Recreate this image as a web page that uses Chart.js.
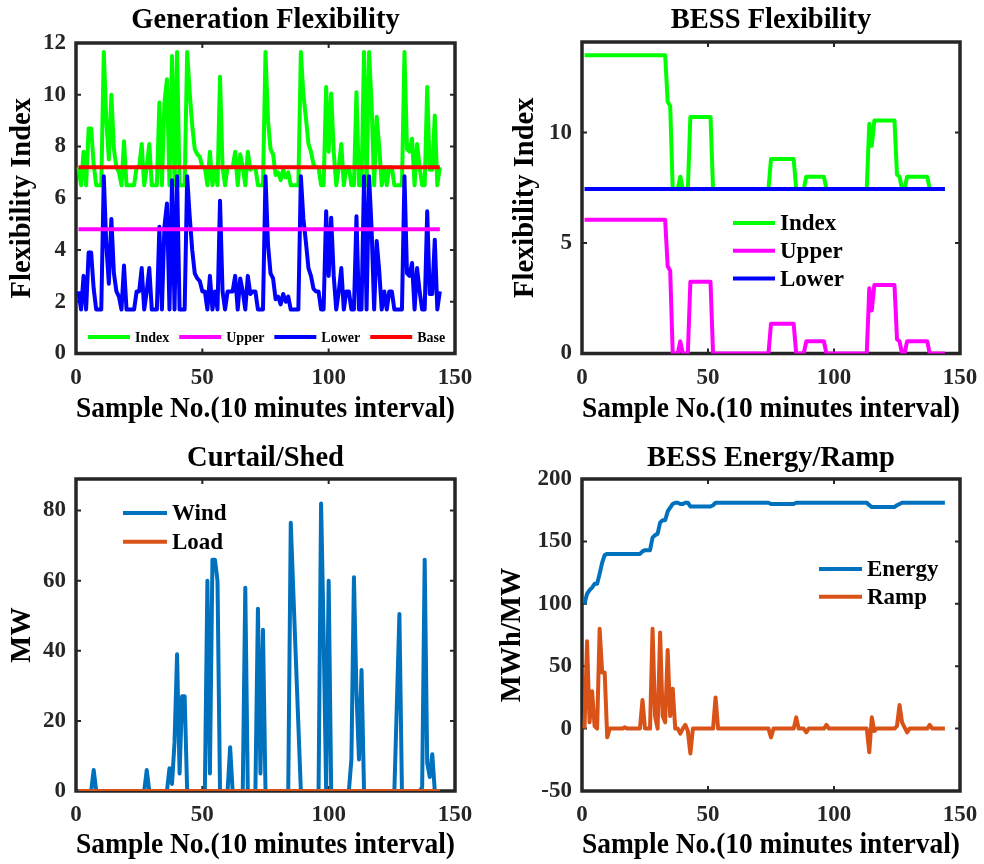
<!DOCTYPE html>
<html><head><meta charset="utf-8">
<script src="https://cdn.jsdelivr.net/npm/chart.js@4.4.1/dist/chart.umd.min.js"></script>
<style>
html,body{margin:0;padding:0;background:#fff;overflow:hidden;width:984px;height:864px;}
#wrap{position:relative;width:984px;height:864px;overflow:hidden;background:#fff;}
canvas{position:absolute;}
</style></head><body><div id="wrap">
<canvas id="c1"></canvas><canvas id="c2"></canvas><canvas id="c3"></canvas><canvas id="c4"></canvas>
</div>
<script>
// ---------- data ----------
const sampleNo = Array.from({length:144},(_,i)=>i+1);
const xTicks = [0,50,100,150];

const genIndex = [7.2,6.5,7.8,6.5,8.7,8.7,7.3,6.5,6.5,6.5,
 11.65,9.0,7.5,10.0,7.9,7.2,7.0,6.5,8.2,6.5,
 6.5,6.5,6.5,7.2,7.2,8.1,6.5,7.2,8.1,6.5,
 6.5,6.5,9.7,6.5,9.7,10.6,6.5,11.5,6.5,11.65,
 6.5,6.5,6.5,11.65,10.1,8.8,7.9,7.7,7.6,7.2,
 7.2,6.5,7.8,6.5,7.2,6.5,10.7,7.2,6.5,7.2,
 7.2,7.2,7.8,6.5,7.7,7.2,6.5,7.8,7.1,7.2,
 7.2,6.5,6.5,6.5,11.65,9.0,7.9,7.7,6.9,7.0,
 6.7,7.1,6.8,7.0,6.5,6.5,6.5,6.5,11.65,10.0,
 9.1,8.1,7.8,7.3,7.2,7.2,6.5,6.5,10.3,7.8,
 10.05,7.8,6.5,7.2,8.1,6.5,7.2,7.2,6.5,6.5,
 10.1,6.5,6.5,11.65,6.5,11.65,9.6,6.5,9.15,8.0,
 6.5,7.2,6.5,7.2,7.2,6.5,6.5,6.5,6.5,11.65,
 7.9,7.8,8.3,6.5,8.1,7.2,6.5,6.5,10.3,7.1,
 7.1,9.2,6.5,7.2];
const genUpper = [4.8,4.8,4.8,4.8,4.8,4.8,4.8,4.8,4.8,4.8,4.8,4.8,
 4.8,4.8,4.8,4.8,4.8,4.8,4.8,4.8,4.8,4.8,4.8,4.8,
 4.8,4.8,4.8,4.8,4.8,4.8,4.8,4.8,4.8,4.8,4.8,4.8,
 4.8,4.8,4.8,4.8,4.8,4.8,4.8,4.8,4.8,4.8,4.8,4.8,
 4.8,4.8,4.8,4.8,4.8,4.8,4.8,4.8,4.8,4.8,4.8,4.8,
 4.8,4.8,4.8,4.8,4.8,4.8,4.8,4.8,4.8,4.8,4.8,4.8,
 4.8,4.8,4.8,4.8,4.8,4.8,4.8,4.8,4.8,4.8,4.8,4.8,
 4.8,4.8,4.8,4.8,4.8,4.8,4.8,4.8,4.8,4.8,4.8,4.8,
 4.8,4.8,4.8,4.8,4.8,4.8,4.8,4.8,4.8,4.8,4.8,4.8,
 4.8,4.8,4.8,4.8,4.8,4.8,4.8,4.8,4.8,4.8,4.8,4.8,
 4.8,4.8,4.8,4.8,4.8,4.8,4.8,4.8,4.8,4.8,4.8,4.8,
 4.8,4.8,4.8,4.8,4.8,4.8,4.8,4.8,4.8,4.8,4.8,4.8];
const genLower = [2.4,1.7,3.0,1.7,3.9,3.9,2.5,1.7,1.7,1.7,
 6.85,4.2,2.7,5.2,3.1,2.4,2.2,1.7,3.4,1.7,
 1.7,1.7,1.7,2.4,2.4,3.3,1.7,2.4,3.3,1.7,
 1.7,1.7,4.9,1.7,4.9,5.8,1.7,6.7,1.7,6.85,
 1.7,1.7,1.7,6.85,5.3,4.0,3.1,2.9,2.8,2.4,
 2.4,1.7,3.0,1.7,2.4,1.7,5.9,2.4,1.7,2.4,
 2.4,2.4,3.0,1.7,2.9,2.4,1.7,3.0,2.3,2.4,
 2.4,1.7,1.7,1.7,6.85,4.2,3.1,2.9,2.1,2.2,
 1.9,2.3,2.0,2.2,1.7,1.7,1.7,1.7,6.85,5.2,
 4.3,3.3,3.0,2.5,2.4,2.4,1.7,1.7,5.5,3.0,
 5.25,3.0,1.7,2.4,3.3,1.7,2.4,2.4,1.7,1.7,
 5.3,1.7,1.7,6.85,1.7,6.85,4.8,1.7,4.35,3.2,
 1.7,2.4,1.7,2.4,2.4,1.7,1.7,1.7,1.7,6.85,
 3.1,3.0,3.5,1.7,3.3,2.4,1.7,1.7,5.5,2.3,
 2.3,4.4,1.7,2.4];
const genBase = [7.2,7.2,7.2,7.2,7.2,7.2,7.2,7.2,7.2,7.2,7.2,7.2,
 7.2,7.2,7.2,7.2,7.2,7.2,7.2,7.2,7.2,7.2,7.2,7.2,
 7.2,7.2,7.2,7.2,7.2,7.2,7.2,7.2,7.2,7.2,7.2,7.2,
 7.2,7.2,7.2,7.2,7.2,7.2,7.2,7.2,7.2,7.2,7.2,7.2,
 7.2,7.2,7.2,7.2,7.2,7.2,7.2,7.2,7.2,7.2,7.2,7.2,
 7.2,7.2,7.2,7.2,7.2,7.2,7.2,7.2,7.2,7.2,7.2,7.2,
 7.2,7.2,7.2,7.2,7.2,7.2,7.2,7.2,7.2,7.2,7.2,7.2,
 7.2,7.2,7.2,7.2,7.2,7.2,7.2,7.2,7.2,7.2,7.2,7.2,
 7.2,7.2,7.2,7.2,7.2,7.2,7.2,7.2,7.2,7.2,7.2,7.2,
 7.2,7.2,7.2,7.2,7.2,7.2,7.2,7.2,7.2,7.2,7.2,7.2,
 7.2,7.2,7.2,7.2,7.2,7.2,7.2,7.2,7.2,7.2,7.2,7.2,
 7.2,7.2,7.2,7.2,7.2,7.2,7.2,7.2,7.2,7.2,7.2,7.2];
const genTicksY = [0,2,4,6,8,10,12];

const bessIndex = [13.5,13.5,13.5,13.5,13.5,13.5,13.5,13.5,13.5,13.5,
 13.5,13.5,13.5,13.5,13.5,13.5,13.5,13.5,13.5,13.5,
 13.5,13.5,13.5,13.5,13.5,13.5,13.5,13.5,13.5,13.5,
 13.5,13.5,13.5,11.4,11.2,7.45,7.45,7.45,8.0,7.45,
 7.45,7.45,10.7,10.7,10.7,10.7,10.7,10.7,10.7,10.7,
 10.7,7.45,7.45,7.45,7.45,7.45,7.45,7.45,7.45,7.45,
 7.45,7.45,7.45,7.45,7.45,7.45,7.45,7.45,7.45,7.45,
 7.45,7.45,7.45,7.45,8.8,8.8,8.8,8.8,8.8,8.8,
 8.8,8.8,8.8,8.8,7.45,7.45,7.45,7.45,8.0,8.0,
 8.0,8.0,8.0,8.0,8.0,8.0,7.45,7.45,7.45,7.45,
 7.45,7.45,7.45,7.45,7.45,7.45,7.45,7.45,7.45,7.45,
 7.45,7.45,7.45,10.4,9.4,10.55,10.55,10.55,10.55,10.55,
 10.55,10.55,10.55,10.55,8.1,8.0,7.45,7.45,8.0,8.0,
 8.0,8.0,8.0,8.0,8.0,8.0,8.0,7.45,7.45,7.45,
 7.45,7.45,7.45,7.45];
const bessUpper = [6.05,6.05,6.05,6.05,6.05,6.05,6.05,6.05,6.05,6.05,
 6.05,6.05,6.05,6.05,6.05,6.05,6.05,6.05,6.05,6.05,
 6.05,6.05,6.05,6.05,6.05,6.05,6.05,6.05,6.05,6.05,
 6.05,6.05,6.05,3.95,3.75,0,0,0,0.55,0,
 0,0,3.25,3.25,3.25,3.25,3.25,3.25,3.25,3.25,
 3.25,0,0,0,0,0,0,0,0,0,
 0,0,0,0,0,0,0,0,0,0,
 0,0,0,0,1.35,1.35,1.35,1.35,1.35,1.35,
 1.35,1.35,1.35,1.35,0,0,0,0,0.55,0.55,
 0.55,0.55,0.55,0.55,0.55,0.55,0,0,0,0,
 0,0,0,0,0,0,0,0,0,0,
 0,0,0,2.95,1.95,3.1,3.1,3.1,3.1,3.1,
 3.1,3.1,3.1,3.1,0.65,0.55,0,0,0.55,0.55,
 0.55,0.55,0.55,0.55,0.55,0.55,0.55,0,0,0,
 0,0,0,0];
const bessLower = [7.45,7.45,7.45,7.45,7.45,7.45,7.45,7.45,7.45,7.45,7.45,7.45,
 7.45,7.45,7.45,7.45,7.45,7.45,7.45,7.45,7.45,7.45,7.45,7.45,
 7.45,7.45,7.45,7.45,7.45,7.45,7.45,7.45,7.45,7.45,7.45,7.45,
 7.45,7.45,7.45,7.45,7.45,7.45,7.45,7.45,7.45,7.45,7.45,7.45,
 7.45,7.45,7.45,7.45,7.45,7.45,7.45,7.45,7.45,7.45,7.45,7.45,
 7.45,7.45,7.45,7.45,7.45,7.45,7.45,7.45,7.45,7.45,7.45,7.45,
 7.45,7.45,7.45,7.45,7.45,7.45,7.45,7.45,7.45,7.45,7.45,7.45,
 7.45,7.45,7.45,7.45,7.45,7.45,7.45,7.45,7.45,7.45,7.45,7.45,
 7.45,7.45,7.45,7.45,7.45,7.45,7.45,7.45,7.45,7.45,7.45,7.45,
 7.45,7.45,7.45,7.45,7.45,7.45,7.45,7.45,7.45,7.45,7.45,7.45,
 7.45,7.45,7.45,7.45,7.45,7.45,7.45,7.45,7.45,7.45,7.45,7.45,
 7.45,7.45,7.45,7.45,7.45,7.45,7.45,7.45,7.45,7.45,7.45,7.45];
const bessTicksY = [0,5,10];

const windCurtail = [0,0,0,0,0,0,6,0,0,0,
 0,0,0,0,0,0,0,0,0,0,
 0,0,0,0,0,0,0,6,0,0,
 0,0,0,0,0,0,6.5,2,14,39,
 5,27,27,0,0,0,0,0,0,0,
 0,60,5,66,66,60,0,0,0,0,
 12.5,0,0,0,0,0,58,0,0,0,
 0,52,5,46,0,0,0,0,0,0,
 0,0,0,0,76.5,57,38,19,0,0,
 0,0,0,0,0,0,82,45,0,60,
 0,0,0,0,0,0,0,0,9,61,
 28,9,34.5,0,0,0,0,0,0,0,
 0,0,0,0,0,0,25,50.5,0,0,
 0,0,0,0,0,0,1,66,8,4,
 10.5,0,0,0];
const loadShed = [0,0,0,0,0,0,0,0,0,0,0,0,
 0,0,0,0,0,0,0,0,0,0,0,0,
 0,0,0,0,0,0,0,0,0,0,0,0,
 0,0,0,0,0,0,0,0,0,0,0,0,
 0,0,0,0,0,0,0,0,0,0,0,0,
 0,0,0,0,0,0,0,0,0,0,0,0,
 0,0,0,0,0,0,0,0,0,0,0,0,
 0,0,0,0,0,0,0,0,0,0,0,0,
 0,0,0,0,0,0,0,0,0,0,0,0,
 0,0,0,0,0,0,0,0,0,0,0,0,
 0,0,0,0,0,0,0,0,0,0,0,0,
 0,0,0,0,0,0,0,0,0,0,0,0];
const curtTicksY = [0,20,40,60,80];

const energyMWh = [100,108,111,113,116,116,124,133,139,140,
 140,140,140,140,140,140,140,140,140,140,
 140,140,140,142,143,143,143,153,155,156,
 165,167,167,174,177,180,181,181,180,180,
 181,181,178,178,178,178,178,178,178,178,
 178,179,181,181,181,181,181,181,181,181,
 181,181,181,181,181,181,181,181,181,181,
 181,181,181,181,180,180,180,180,180,180,
 180,180,180,180,181,181,181,181,181,181,
 181,181,181,181,181,181,181,181,181,181,
 181,181,181,181,181,181,181,181,181,181,
 181,181,181,179,177.5,177.5,177.5,177.5,177.5,177.5,
 177.5,177.5,177.5,177.5,179,180,181,181,181,181,
 181,181,181,181,181,181,181,181,181,181,
 181,181,181,181];
const rampMW = [0,70,5,30,2,0,80,45,45,-7,
 0,0,0,0,0,0,1,0,0,0,
 0,0,0,23,0,0,0,80,10,0,
 77,10,5,63,10,32,0,0,-4,0,
 3,-2,-20,0,0,0,0,0,0,0,
 0,0,25,0,0,0,0,0,0,0,
 0,0,0,0,0,0,0,0,0,0,
 0,0,0,0,-7,0,0,0,0,0,
 0,0,0,0,9,0,0,0,-3,0,
 0,0,0,0,0,0,3,0,0,0,
 0,0,0,0,0,0,0,0,0,0,
 0,0,0,-19,9,-2,0,0,0,0,
 0,0,0,0,2,19,5,1,-3,0,
 0,0,0,0,0,0,0,3,0,0,
 0,0,0,0];
const energyTicksY = [-50,0,50,100,150,200];

// ---------- drawing ----------
const FONT = "'Liberation Serif','Times New Roman',serif";
const INK = '#262626';
const LABEL_SIZE = 28.5;
const pts = arr => sampleNo.map((s,i)=>({x:s,y:arr[i]}));

const framePlugin = {
  id: 'matlabFrame',
  beforeDatasetsDraw(chart) {
    const {ctx, chartArea: a, scales} = chart;
    const x = scales.x, y = scales.y, tl = 5;
    ctx.save();
    ctx.strokeStyle = INK;
    ctx.lineWidth = 2;
    ctx.beginPath();
    x.ticks.forEach(t => {
      const p = x.getPixelForValue(t.value);
      if (p > a.left + 3 && p < a.right - 3) {
        ctx.moveTo(p, a.bottom); ctx.lineTo(p, a.bottom - tl);
        ctx.moveTo(p, a.top); ctx.lineTo(p, a.top + tl);
      }
    });
    y.ticks.forEach(t => {
      const p = y.getPixelForValue(t.value);
      if (p > a.top + 3 && p < a.bottom - 3) {
        ctx.moveTo(a.left, p); ctx.lineTo(a.left + tl, p);
        ctx.moveTo(a.right, p); ctx.lineTo(a.right - tl, p);
      }
    });
    ctx.stroke();
    ctx.lineWidth = 3.5;
    ctx.strokeRect(a.left, a.top, a.right - a.left, a.bottom - a.top);
    ctx.restore();
  }
};

const legendPlugin = {
  id: 'inlineLegend',
  afterDatasetsDraw(chart, args, o) {
    const {ctx, chartArea: a} = chart;
    ctx.save();
    ctx.font = `bold ${o.size}px ${FONT}`;
    ctx.textBaseline = 'middle';
    ctx.textAlign = 'left';
    let x = a.left + o.x, y = a.top + o.y;
    chart.data.datasets.forEach(d => {
      ctx.strokeStyle = d.borderColor;
      ctx.lineWidth = o.lineWidth;
      ctx.beginPath(); ctx.moveTo(x, y); ctx.lineTo(x + o.lineLen, y); ctx.stroke();
      ctx.fillStyle = '#000';
      ctx.fillText(d.label, x + o.lineLen + o.gap, y + 1);
      if (o.horizontal) x += o.lineLen + o.gap + ctx.measureText(d.label).width + o.spacing;
      else y += o.dy;
    });
    ctx.restore();
  }
};

function panel(id, g, spec) {
  const cv = document.getElementById(id);
  cv.width = g.w; cv.height = g.h;
  Object.assign(cv.style, {left: g.left+'px', top: g.top+'px', width: g.w+'px', height: g.h+'px'});
  return new Chart(cv, {
    type: 'line',
    data: { datasets: spec.datasets.map(d => ({
      label: d.label, data: pts(d.data), borderColor: d.color, backgroundColor: d.color,
      borderWidth: 4, pointRadius: 0, tension: 0, order: d.order,
      borderJoinStyle: 'round', borderCapStyle: 'butt', fill: false,
      xAxisID: 'x', yAxisID: 'y'
    })) },
    options: {
      responsive: false, animation: false, devicePixelRatio: 1,
      layout: { padding: 0 },
      plugins: {
        legend: { display: false }, tooltip: { enabled: false },
        title: { display: true, text: spec.title, color: '#000',
          font: { family: FONT, size: LABEL_SIZE, weight: 'bold', lineHeight: 1 },
          padding: { top: g.tTop, bottom: g.tBot } },
        inlineLegend: spec.legend
      },
      scales: {
        x: {
          type: 'linear', min: 0, max: 150,
          afterBuildTicks: s => { s.ticks = xTicks.map(v => ({value: v})); },
          afterFit: s => { s.height = g.xH; },
          grid: { display: false, drawTicks: false }, border: { display: false },
          ticks: { autoSkip: false, maxRotation: 0, padding: 10.5, color: INK,
            font: { family: FONT, size: 23, weight: 'bold' } },
          title: { display: true, text: 'Sample No.(10 minutes interval)', color: '#000',
            font: { family: FONT, size: LABEL_SIZE, weight: 'bold', lineHeight: 1 },
            padding: { top: 0, bottom: g.xTitleBot } }
        },
        y: {
          type: 'linear', position: 'left', min: spec.yMin, max: spec.yMax,
          afterBuildTicks: s => { s.ticks = spec.yTicks.map(v => ({value: v})); },
          afterFit: s => { s.width = g.L; },
          grid: { display: false, drawTicks: false }, border: { display: false },
          ticks: { autoSkip: false, padding: 10, color: INK,
            font: { family: FONT, size: 23, weight: 'bold' } },
          title: { display: true, text: spec.yTitle, color: '#000',
            font: { family: FONT, size: LABEL_SIZE, weight: 'bold', lineHeight: 1 },
            padding: { top: g.yTitleTop, bottom: 0 } }
        },
        yRight: {
          type: 'linear', position: 'right', min: spec.yMin, max: spec.yMax,
          afterFit: s => { s.width = g.L; },
          grid: { display: false, drawTicks: false }, border: { display: false },
          ticks: { display: false }, title: { display: false }
        }
      }
    },
    plugins: [framePlugin, legendPlugin]
  });
}

const topRow = { top: 0, h: 440, tTop: 6, tBot: 8.5, xH: 86.5, xTitleBot: 16 };
const botRow = { top: 440, h: 424, tTop: 4, tBot: 6.5, xH: 73, xTitleBot: 4 };
const leftCol = { left: 0, w: 531, L: 76 };
const rightCol = { left: 492, w: 558, L: 90 };

panel('c1', Object.assign({}, topRow, leftCol, { yTitleTop: 8.3 }), {
  title: 'Generation Flexibility', yTitle: 'Flexibility Index',
  yMin: 0, yMax: 12, yTicks: genTicksY,
  datasets: [
    { label: 'Index', data: genIndex, color: '#00FF00', order: 4 },
    { label: 'Upper', data: genUpper, color: '#FF00FF', order: 2 },
    { label: 'Lower', data: genLower, color: '#0000FF', order: 3 },
    { label: 'Base', data: genBase, color: '#FF0000', order: 1 }
  ],
  legend: { horizontal: true, x: 12, y: 294, size: 14, lineLen: 42, gap: 5, spacing: 10, lineWidth: 4 }
});

panel('c2', Object.assign({}, topRow, rightCol, { tTop: 6, tBot: 7.5, yTitleTop: 19.8 }), {
  title: 'BESS Flexibility', yTitle: 'Flexibility Index',
  yMin: 0, yMax: 14.1, yTicks: bessTicksY,
  datasets: [
    { label: 'Index', data: bessIndex, color: '#00FF00', order: 3 },
    { label: 'Upper', data: bessUpper, color: '#FF00FF', order: 2 },
    { label: 'Lower', data: bessLower, color: '#0000FF', order: 1 }
  ],
  legend: { horizontal: false, x: 151, y: 181, dy: 27.8, size: 23, lineLen: 42, gap: 5, lineWidth: 4 }
});

panel('c3', Object.assign({}, botRow, leftCol, { yTitleTop: 8.3 }), {
  title: 'Curtail/Shed', yTitle: 'MW',
  yMin: 0, yMax: 89, yTicks: curtTicksY,
  datasets: [
    { label: 'Wind', data: windCurtail, color: '#0072BD', order: 2 },
    { label: 'Load', data: loadShed, color: '#D95319', order: 1 }
  ],
  legend: { horizontal: false, x: 47, y: 34, dy: 28.7, size: 23, lineLen: 44, gap: 5, lineWidth: 4 }
});

panel('c4', Object.assign({}, botRow, rightCol, { yTitleTop: 6.8 }), {
  title: 'BESS Energy/Ramp', yTitle: 'MWh/MW',
  yMin: -50, yMax: 200, yTicks: energyTicksY,
  datasets: [
    { label: 'Energy', data: energyMWh, color: '#0072BD', order: 2 },
    { label: 'Ramp', data: rampMW, color: '#D95319', order: 1 }
  ],
  legend: { horizontal: false, x: 237, y: 90, dy: 27.7, size: 23, lineLen: 43, gap: 5, lineWidth: 4 }
});
</script>
</body></html>
